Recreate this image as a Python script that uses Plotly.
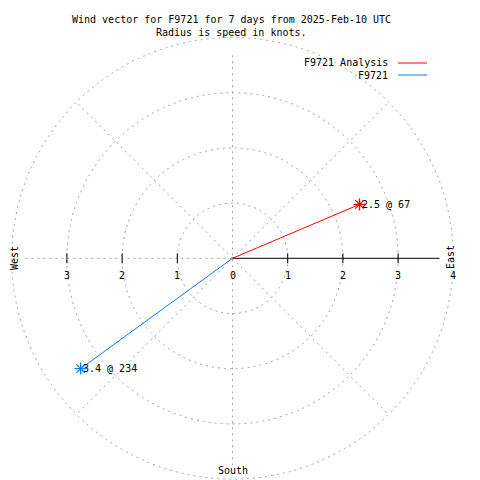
import numpy as np
import plotly.graph_objects as go

# ---- data ----
series_names = ["F9721 Analysis", "F9721"]
speeds_kt = [2.5, 3.4]
directions_deg = [67, 234]
series_colors = ["#ff0000", "#0080ff"]
ring_radii = [1, 2, 3, 4]
tick_values = [-3, -2, -1, 0, 1, 2, 3, 4]
tick_labels = ["3", "2", "1", "0", "1", "2", "3", "4"]
tick_marks = [-3, -2, -1, 1, 2, 3]
spoke_angles = [45, 135, 225, 315]
title_lines = ["Wind vector for F9721 for 7 days from 2025-Feb-10 UTC",
               "Radius is speed in knots."]

# ---- layout geometry ----
W = H = 480
cx, cy, scale = 232.5, 258.3, 55.2
FONT = dict(family="DejaVu Sans Mono", size=10, color="black")
GRID = dict(color="#a0a0a0", width=1, dash="2px,4px")


def px(x):
    return x / W


def py(y):
    return 1 - y / H


fig = go.Figure()

# grid rings
shapes = []
for r in ring_radii:
    shapes.append(dict(type="circle", xref="x", yref="y", x0=-r, x1=r, y0=-r, y1=r,
                       line=GRID, layer="below"))

# straight grid lines
rmax_axis = 3.75
gx, gy = [], []
gx += [-rmax_axis, 0, None, 0, 0, None]
gy += [0, 0, None, -rmax_axis, rmax_axis, None]
for a in spoke_angles:
    t = np.radians(a)
    gx += [0, 4 * np.sin(t), None]
    gy += [0, 4 * np.cos(t), None]
fig.add_trace(go.Scatter(x=gx, y=gy, mode="lines", line=GRID, hoverinfo="skip"))

# solid east axis and tick marks
tx, ty = [0, rmax_axis, None], [0, 0, None]
for v in tick_marks:
    tx += [v, v, None]
    ty += [-5 / scale, 5 / scale, None]
fig.add_trace(go.Scatter(x=tx, y=ty, mode="lines", line=dict(color="black", width=1),
                         hoverinfo="skip"))

# wind vectors
annotations = []
for name, s, d, c in zip(series_names, speeds_kt, directions_deg, series_colors):
    t = np.radians(d)
    x, y = s * np.sin(t), s * np.cos(t)
    fig.add_trace(go.Scatter(x=[0, x], y=[0, y], mode="lines", name=name,
                             line=dict(color=c, width=1)))
    fig.add_trace(go.Scatter(x=[x], y=[y], mode="markers", name=name,
                             marker=dict(symbol="asterisk-open", size=10,
                                         line=dict(color=c, width=1.3), color=c)))
    annotations.append(dict(x=x, y=y, xref="x", yref="y", text=f"{s} @ {d}",
                            showarrow=False, xanchor="left", yanchor="middle",
                            xshift=0, font=FONT))

# tick labels
for v, lab in zip(tick_values, tick_labels):
    annotations.append(dict(x=v, y=0, xref="x", yref="y", text=lab, showarrow=False,
                            xanchor="center", yanchor="middle", yshift=-17, font=FONT))


def paper_text(x, y, text, angle=0, xanchor="center"):
    return dict(x=px(x), y=py(y), xref="paper", yref="paper", text=text,
                showarrow=False, textangle=angle, xanchor=xanchor, yanchor="middle",
                font=FONT)


# compass labels
annotations.append(paper_text(14, 258, "West", -90))
annotations.append(paper_text(450, 257, "East", -90))
annotations.append(paper_text(233, 470, "South"))

# title
annotations.append(paper_text(231, 20, title_lines[0]))
annotations.append(paper_text(231.5, 33, title_lines[1]))

# legend (text left of sample line, gnuplot style)
for i, (name, c) in enumerate(zip(series_names, series_colors)):
    ly = 63 + 12 * i
    annotations.append(paper_text(390, ly, name, xanchor="right"))
    shapes.append(dict(type="line", xref="paper", yref="paper", x0=px(398), x1=px(427),
                       y0=py(ly), y1=py(ly), line=dict(color=c, width=1)))

fig.update_layout(
    width=W, height=H, margin=dict(l=0, r=0, t=0, b=0),
    paper_bgcolor="white", plot_bgcolor="white", showlegend=False,
    xaxis=dict(range=[-cx / scale, (W - cx) / scale], visible=False, fixedrange=True),
    yaxis=dict(range=[-(H - cy) / scale, cy / scale], visible=False, fixedrange=True),
    shapes=shapes, annotations=annotations, font=FONT,
)

fig.write_html("out.html", config={"displayModeBar": False},
               post_script="document.body.style.margin='0';")
